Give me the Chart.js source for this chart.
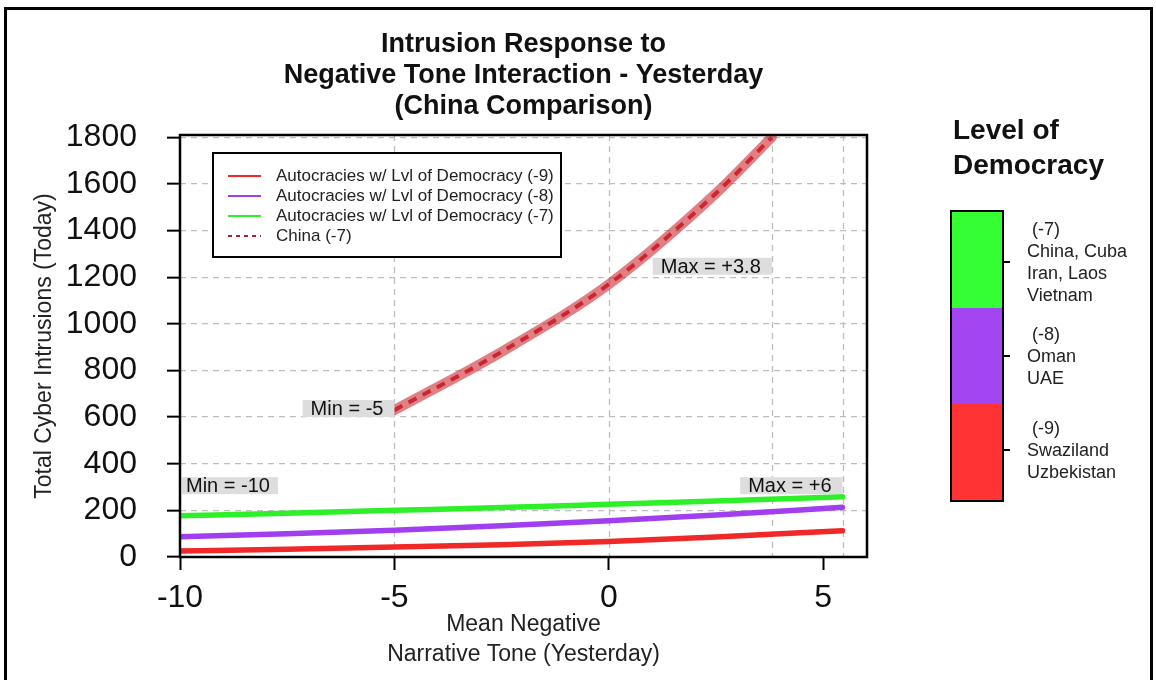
<!DOCTYPE html>
<html>
<head>
<meta charset="utf-8">
<script src="https://cdn.jsdelivr.net/npm/chart.js@4.4.0/dist/chart.umd.min.js"></script>
<style>
body { margin:0; background:#fff; font-family:"Liberation Sans", Arial, sans-serif; }
#wrap { position:relative; width:1156px; height:680px; overflow:hidden; background:#fff; }
#frame { position:absolute; left:4px; top:7px; right:3px; bottom:-10px; border:3px solid #000; }
#myChart { position:absolute; left:0; top:0; }
#lvlTitle { position:absolute; left:953px; top:112px; font-weight:bold; font-size:28px; line-height:35px; color:#111; }
#bar { position:absolute; left:950px; top:210px; width:50px; height:288px; border:2px solid #000; }
#bar div { height:96px; }
.tick { position:absolute; left:1002px; width:8px; height:2px; background:#000; }
.lvl { position:absolute; left:1027px; font-size:18px; line-height:22px; color:#222; transform:translateY(-50%); }
</style>
</head>
<body>
<div id="wrap">
  <div id="frame"></div>
  <canvas id="myChart" width="1156" height="680"></canvas>
  <div id="lvlTitle">Level of<br>Democracy</div>
  <div id="bar"></div>
</div>
<script>
// data
const toneX = [-10, -7.5, -5, -2.5, 0, 2.5, 5.45];
const lvl9 = [26, 33, 43, 53, 67, 86, 113];
const lvl8 = [87, 100, 115, 134, 155, 180, 213];
const lvl7 = [177, 188, 200, 212, 226, 240, 258];
const chinaX = [-5, -2.5, 0, 2.5, 3.8];
const chinaY = [630, 880, 1170, 1560, 1800];

const seriesNames = ['Autocracies w/ Lvl of Democracy (-9)', 'Autocracies w/ Lvl of Democracy (-8)', 'Autocracies w/ Lvl of Democracy (-7)', 'China (-7)'];
const xTicks = [-10, -5, 0, 5];
const yTicks = [0, 200, 400, 600, 800, 1000, 1200, 1400, 1600, 1800];
const guideX = [-5, 0, 3.8, 5.45];

const noteText = ['Min = -5', 'Min = -10', 'Max = +3.8', 'Max = +6'];
const noteX = [-5, -10, 3.8, 5.45];
const noteY = [637, 306, 1247, 306];
const noteSide = ['left', 'right', 'left', 'left'];

const titleLines = ['Intrusion Response to', 'Negative Tone Interaction - Yesterday', '(China Comparison)'];

const levelCodes = ['(-7)', '(-8)', '(-9)'];
const levelCountries = [['China, Cuba', 'Iran, Laos', 'Vietnam'], ['Oman', 'UAE'], ['Swaziland', 'Uzbekistan']];
const levelColors = ['#33ff33', '#a345f0', '#ff3333'];

const red = 'rgb(240,40,40)';
const purple = 'rgb(160,62,240)';
const green = 'rgb(45,240,40)';
const chinaDash = 'rgb(190,28,38)';
const FONT = '"Liberation Sans", Arial, sans-serif';

function pts(xs, ys) {
  return xs.map((x, i) => ({x: x, y: ys[i]}));
}

// colour bar on the right
const bar = document.getElementById('bar');
const wrap = document.getElementById('wrap');
const tickY = [262, 356, 450];
levelColors.forEach((c, i) => {
  const seg = document.createElement('div');
  seg.style.background = c;
  bar.appendChild(seg);
  const t = document.createElement('div');
  t.className = 'tick';
  t.style.top = (tickY[i] - 1) + 'px';
  wrap.appendChild(t);
  const lab = document.createElement('div');
  lab.className = 'lvl';
  lab.style.top = tickY[i] + 'px';
  lab.innerHTML = '&nbsp;' + levelCodes[i] + '<br>' + levelCountries[i].join('<br>');
  wrap.appendChild(lab);
});

const decor = {
  id: 'decor',
  beforeDatasetsDraw(chart) {
    const {ctx, chartArea, scales} = chart;
    ctx.save();
    ctx.strokeStyle = '#bdbdbd';
    ctx.lineWidth = 1.3;
    ctx.setLineDash([6, 5]);
    guideX.forEach(v => {
      const px = Math.round(scales.x.getPixelForValue(v)) + 0.5;
      ctx.beginPath();
      ctx.moveTo(px, chartArea.top);
      ctx.lineTo(px, chartArea.bottom);
      ctx.stroke();
    });
    ctx.restore();
  },
  afterDatasetsDraw(chart) {
    const {ctx, scales} = chart;
    ctx.save();
    ctx.font = '20px ' + FONT;
    ctx.textBaseline = 'middle';
    noteText.forEach((txt, i) => {
      const px = scales.x.getPixelForValue(noteX[i]);
      const py = scales.y.getPixelForValue(noteY[i]);
      const tw = ctx.measureText(txt).width;
      let left, w, pad;
      if (noteSide[i] === 'left') {
        w = tw + 19; left = px - w; pad = 8;
      } else {
        w = tw + 12; left = px + 2; pad = 4;
      }
      ctx.fillStyle = 'rgb(221,221,221)';
      ctx.fillRect(left, py - 8.5, w, 17);
      ctx.fillStyle = '#111';
      ctx.fillText(txt, left + pad, py + 1);
    });
    ctx.restore();
  },
  afterDraw(chart) {
    const {ctx, chartArea} = chart;
    ctx.save();
    // plot frame
    ctx.strokeStyle = '#000';
    ctx.lineWidth = 2.5;
    ctx.strokeRect(chartArea.left, chartArea.top, chartArea.right - chartArea.left, chartArea.bottom - chartArea.top);

    // legend box
    const lx = chartArea.left + 33, ly = chartArea.top + 18;
    ctx.fillStyle = '#fff';
    ctx.fillRect(lx, ly, 348, 104);
    ctx.lineWidth = 2;
    ctx.strokeRect(lx, ly, 348, 104);
    const legColors = [red, purple, green, chinaDash];
    ctx.font = '17px ' + FONT;
    ctx.textBaseline = 'middle';
    seriesNames.forEach((name, i) => {
      const y = ly + 23 + i * 20;
      ctx.strokeStyle = legColors[i];
      ctx.lineWidth = 2;
      ctx.setLineDash(i === 3 ? [4, 4] : []);
      ctx.beginPath();
      ctx.moveTo(lx + 15, y);
      ctx.lineTo(lx + 48, y);
      ctx.stroke();
      ctx.fillStyle = '#222';
      ctx.fillText(name, lx + 63, y);
    });
    ctx.setLineDash([]);

    // title
    ctx.font = 'bold 27px ' + FONT;
    ctx.textAlign = 'center';
    ctx.fillStyle = '#111';
    const cx = (chartArea.left + chartArea.right) / 2;
    titleLines.forEach((t, i) => ctx.fillText(t, cx, 45 + i * 31));
    ctx.restore();
  }
};

const ctx = document.getElementById('myChart').getContext('2d');

new Chart(ctx, {
  type: 'line',
  data: {
    datasets: [
      {label: seriesNames[0], data: pts(toneX, lvl9), borderColor: red, borderWidth: 5.5},
      {label: seriesNames[1], data: pts(toneX, lvl8), borderColor: purple, borderWidth: 5.5},
      {label: seriesNames[2], data: pts(toneX, lvl7), borderColor: green, borderWidth: 5.5},
      {label: 'China band', data: pts(chinaX, chinaY), borderColor: 'rgba(208,48,58,0.62)', borderWidth: 10},
      {label: seriesNames[3], data: pts(chinaX, chinaY), borderColor: chinaDash, borderWidth: 4, borderDash: [9, 7], borderCapStyle: 'butt'}
    ]
  },
  options: {
    responsive: false,
    animation: false,
    layout: {padding: {top: 135, right: 289, left: 0, bottom: 0}},
    elements: {
      point: {radius: 0},
      line: {cubicInterpolationMode: 'monotone', borderCapStyle: 'round', fill: false}
    },
    plugins: {legend: {display: false}, tooltip: {enabled: false}},
    scales: {
      x: {
        type: 'linear',
        min: -10,
        max: 6.02,
        afterFit: s => { s.height = 123; },
        afterBuildTicks: s => { s.ticks = xTicks.map(v => ({value: v})); },
        grid: {drawOnChartArea: false, tickLength: 13, tickColor: '#000', tickWidth: 2},
        border: {display: false},
        ticks: {color: '#111', font: {size: 32, family: FONT}, padding: 9, maxRotation: 0, autoSkip: false, callback: v => String(v)},
        title: {display: true, text: ['Mean Negative', 'Narrative Tone (Yesterday)'], color: '#222', font: {size: 23, family: FONT, lineHeight: 1.304}, padding: {top: 0, bottom: 10}}
      },
      y: {
        min: 0,
        max: 1810,
        afterFit: s => { s.width = 180; },
        afterBuildTicks: s => { s.ticks = yTicks.map(v => ({value: v})); },
        grid: {color: '#bdbdbd', lineWidth: 1.3, tickLength: 13, tickColor: '#000', tickWidth: 2},
        border: {display: false, dash: [6, 5]},
        ticks: {color: '#111', font: {size: 32, family: FONT}, padding: 30, autoSkip: false, callback: v => String(v)},
        title: {display: true, text: 'Total Cyber Intrusions (Today)', color: '#222', font: {size: 23, family: FONT}, padding: {top: 31, bottom: 0}}
      }
    }
  },
  plugins: [decor]
});
</script>
</body>
</html>
